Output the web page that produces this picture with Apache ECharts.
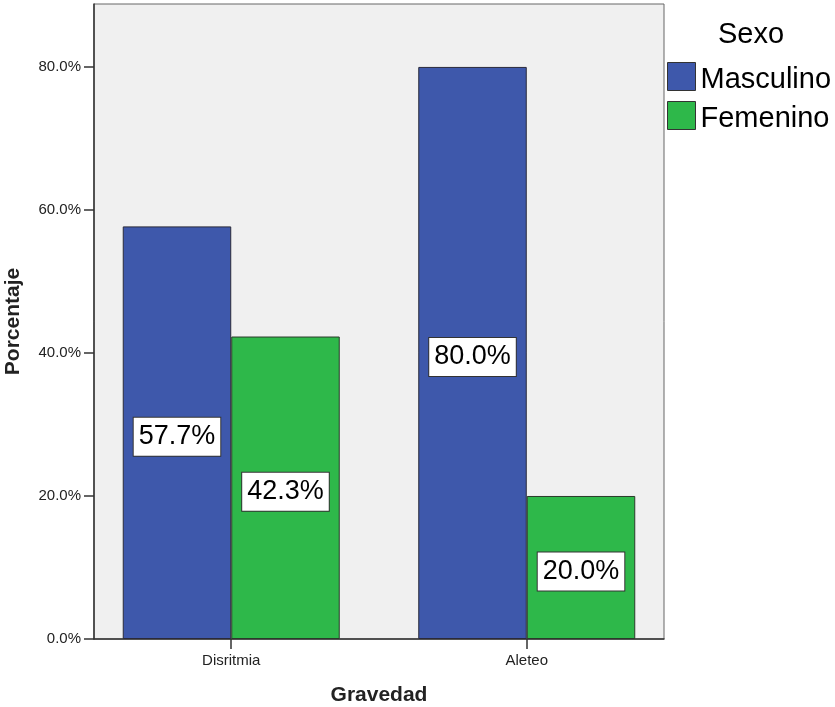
<!DOCTYPE html>
<html>
<head>
<meta charset="utf-8">
<script src="https://cdn.jsdelivr.net/npm/echarts@6/dist/echarts.min.js"></script>
<style>
  html, body { margin: 0; padding: 0; background: #fff; }
  #chart { width: 835px; height: 707px; }
</style>
</head>
<body>
<div id="chart"></div>
<script>
// Gravedad categories and percentage by sex
const categories = ['Disritmia', 'Aleteo'];
const masculino = [57.7, 80.0];
const femenino = [42.3, 20.0];
const yTicks = [0, 20, 40, 60, 80];

const FONT = '"Liberation Sans", Arial, sans-serif';

// Bars sit on a numeric axis (category index) so the bands can be placed freely
const toPoints = vals => vals.map((v, i) => [i, v]);

const valueLabel = {
  show: true,
  position: 'inside',
  offset: [0, 4],
  formatter: p => p.value[1].toFixed(1) + '%',
  fontFamily: FONT,
  fontSize: 27,
  color: '#000',
  backgroundColor: '#fff',
  borderColor: '#333',
  borderWidth: 1,
  padding: [6, 5, 5, 5]
};

const chart = echarts.init(document.getElementById('chart'));
chart.setOption({
  animation: false,
  textStyle: { fontFamily: FONT },
  title: {
    text: 'Sexo',
    left: 718,
    top: 20,
    padding: 0,
    textStyle: { fontFamily: FONT, fontSize: 29, fontWeight: 'normal', color: '#000' }
  },
  legend: {
    orient: 'vertical',
    left: 667,
    top: 59,
    padding: 0,
    itemWidth: 28,
    itemHeight: 28,
    itemGap: 4,
    icon: 'rect',
    formatter: name => '{t|' + name + '}',
    textStyle: {
      fontFamily: FONT,
      fontSize: 29,
      color: '#000',
      rich: { t: { fontFamily: FONT, fontSize: 29, color: '#000', lineHeight: 29, padding: [6, 0, 0, 0] } }
    },
    itemStyle: { borderColor: '#333', borderWidth: 1 },
    data: ['Masculino', 'Femenino']
  },
  grid: {
    left: 94,
    top: 4,
    right: 171,
    bottom: 68,
    outerBoundsMode: 'none',
    containLabel: false,
    show: true,
    backgroundColor: '#f0f0f0',
    borderColor: '#666',
    borderWidth: 1
  },
  xAxis: {
    type: 'value',
    min: -0.4644,
    max: 1.4644,
    name: 'Gravedad',
    nameLocation: 'middle',
    nameGap: 46,
    nameTextStyle: { fontFamily: FONT, fontSize: 21, fontWeight: 'bold', color: '#222' },
    splitLine: { show: false },
    axisLine: { show: true, onZero: false, lineStyle: { color: '#333', width: 1.5 } },
    axisTick: { show: true, length: 10, customValues: [0, 1], lineStyle: { color: '#333', width: 1.5 } },
    axisLabel: {
      customValues: [0, 1],
      formatter: v => categories[Math.round(v)],
      fontFamily: FONT,
      fontSize: 15,
      color: '#222',
      margin: 14
    }
  },
  yAxis: {
    type: 'value',
    min: 0,
    max: 88.8,
    interval: 20,
    name: 'Porcentaje',
    nameLocation: 'middle',
    nameRotate: 90,
    nameGap: 70,
    nameTextStyle: { fontFamily: FONT, fontSize: 21, fontWeight: 'bold', color: '#222' },
    splitLine: { show: false },
    axisLine: { show: true, onZero: false, lineStyle: { color: '#333', width: 1.5 } },
    axisTick: { show: true, length: 10, customValues: yTicks, lineStyle: { color: '#333', width: 1.5 } },
    axisLabel: {
      customValues: yTicks,
      formatter: v => v.toFixed(1) + '%',
      fontFamily: FONT,
      fontSize: 15,
      color: '#222',
      margin: 13,
      padding: [3, 0, 0, 0]
    }
  },
  series: [
    {
      name: 'Masculino',
      type: 'bar',
      data: toPoints(masculino),
      barWidth: 108.5,
      barGap: '0%',
      itemStyle: { color: '#3e58ab', borderColor: '#2a2a3a', borderWidth: 1 },
      label: valueLabel
    },
    {
      name: 'Femenino',
      type: 'bar',
      data: toPoints(femenino),
      barWidth: 108.5,
      barGap: '0%',
      itemStyle: { color: '#2eb84a', borderColor: '#2a3a2a', borderWidth: 1 },
      label: valueLabel
    }
  ]
});
</script>
</body>
</html>
